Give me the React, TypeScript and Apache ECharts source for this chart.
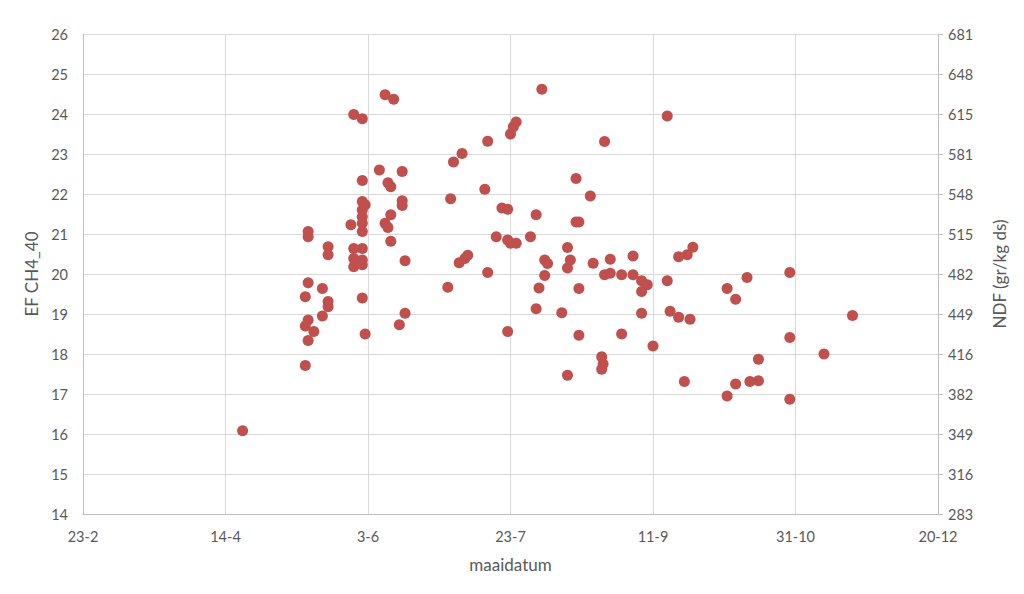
import React, { useEffect, useRef } from "react";
import * as echarts from "echarts";

// x-axis tick labels (every 50 days starting 23-2)
const xTickLabels = ["23-2", "14-4", "3-6", "23-7", "11-9", "31-10", "20-12"];
// right axis (NDF) tick labels
const ndfTicks = [283, 316, 349, 382, 416, 449, 482, 515, 548, 581, 615, 648, 681];

// days after 23-2 (maaidatum)
const days = [
  56, 106, 109, 95, 98, 104, 112, 98, 107, 108,
  98, 99, 112, 112, 98, 98, 98, 98, 94, 106,
  107, 108, 79, 79, 108, 86, 86, 95, 98, 95,
  98, 95, 98, 113, 79, 84, 78, 86, 86, 98,
  84, 79, 78, 81, 113, 111, 99, 79, 78,
  161, 152, 151, 150, 142, 183, 133, 130, 173, 141,
  129, 178, 147, 149, 159, 173, 174, 145, 149, 150,
  152, 157, 170, 135, 134, 132, 162, 163, 171, 170,
  179, 185, 193, 183, 185, 189, 193, 162, 142, 196,
  198, 196, 205, 128, 160, 174, 159, 168, 149, 174,
  189, 182, 182.5, 182, 170,
  205, 214, 212, 209, 233, 248, 226, 229, 196, 206,
  209, 213, 270, 200, 248, 260, 237, 211, 229, 234,
  237, 226, 248,
];

// EF CH4_40 values
const efCh4 = [
  16.08, 24.48, 24.37, 23.99, 23.88, 22.6, 22.56, 22.34, 22.28, 22.18,
  21.81, 21.73, 21.83, 21.71, 21.6, 21.43, 21.27, 21.06, 21.23, 21.27,
  21.16, 21.48, 21.06, 20.93, 20.82, 20.68, 20.48, 20.64, 20.64, 20.39,
  20.35, 20.18, 20.23, 20.33, 19.78, 19.64, 19.43, 19.31, 19.18, 19.4,
  18.95, 18.85, 18.7, 18.56, 19.02, 18.73, 18.5, 18.34, 17.71,
  24.62, 23.8, 23.68, 23.5, 23.32, 23.31, 23.01, 22.8, 22.39, 22.12,
  21.88, 21.95, 21.65, 21.62, 21.48, 21.3, 21.3, 20.93, 20.85, 20.77,
  20.77, 20.93, 20.66, 20.47, 20.39, 20.28, 20.35, 20.26, 20.35, 20.15,
  20.27, 20.37, 20.45, 19.98, 20.02, 19.98, 19.98, 19.96, 20.04, 19.83,
  19.73, 19.56, 19.83, 19.67, 19.65, 19.64, 19.13, 19.03, 18.56, 18.47,
  18.5, 17.93, 17.75, 17.62, 17.47,
  23.95, 20.67, 20.48, 20.43, 19.91, 20.04, 19.64, 19.37, 19.02, 19.07,
  18.92, 18.87, 18.96, 18.2, 18.41, 18.0, 17.87, 17.31, 17.25, 17.31,
  17.33, 16.95, 16.87,
];

const FONT = "Lato, 'Open Sans', sans-serif";
const LABEL_COLOR = "#595959";

export default function App() {
  const ref = useRef<HTMLDivElement>(null);

  useEffect(() => {
    if (!ref.current) return;
    const chart = echarts.init(ref.current, undefined, { renderer: "svg" });
    const data = days.map((d, i) => [d, efCh4[i]]);
    chart.setOption({
      animation: false,
      backgroundColor: "#ffffff",
      grid: { left: 83, right: 86, top: 34, bottom: 80, containLabel: false },
      xAxis: {
        type: "value",
        min: 0,
        max: 300,
        interval: 50,
        name: "maaidatum",
        nameLocation: "middle",
        nameGap: 42,
        nameTextStyle: { color: LABEL_COLOR, fontSize: 17, fontFamily: FONT },
        axisLine: { show: true, lineStyle: { color: "#bfbfbf", width: 1 } },
        axisTick: { show: false },
        axisLabel: {
          color: LABEL_COLOR,
          fontSize: 14.5,
          fontFamily: FONT,
          margin: 15,
          formatter: (v: number) => xTickLabels[Math.round(v / 50)] ?? "",
        },
        splitLine: { show: true, lineStyle: { color: "#d9d9d9", width: 1 } },
      },
      yAxis: [
        {
          type: "value",
          min: 14,
          max: 26,
          interval: 1,
          name: "EF CH4_40",
          nameLocation: "middle",
          nameRotate: 90,
          nameGap: 40,
          nameTextStyle: { color: LABEL_COLOR, fontSize: 17, fontFamily: FONT },
          axisLine: { show: true, lineStyle: { color: "#bfbfbf", width: 1 } },
          axisTick: { show: false },
          axisLabel: { color: LABEL_COLOR, fontSize: 14.5, fontFamily: FONT, margin: 15 },
          splitLine: { show: true, lineStyle: { color: "#d9d9d9", width: 1 } },
        },
        {
          type: "value",
          position: "right",
          min: 0,
          max: 12,
          interval: 1,
          name: "NDF (gr/kg ds)",
          nameLocation: "middle",
          nameRotate: 90,
          nameGap: 53,
          nameTextStyle: { color: LABEL_COLOR, fontSize: 17, fontFamily: FONT },
          axisLine: { show: true, lineStyle: { color: "#bfbfbf", width: 1 } },
          axisTick: { show: true, inside: false, length: 5, lineStyle: { color: "#bfbfbf" } },
          axisLabel: {
            color: LABEL_COLOR,
            fontSize: 14.5,
            fontFamily: FONT,
            margin: 10,
            formatter: (v: number) => String(ndfTicks[Math.round(v)] ?? ""),
          },
          splitLine: { show: false },
        },
      ],
      series: [
        {
          type: "scatter",
          yAxisIndex: 0,
          data,
          symbol: "circle",
          symbolSize: 11,
          itemStyle: { color: "#C0504D", opacity: 1 },
        },
      ],
    });
    return () => chart.dispose();
  }, []);

  return (
    <div
      ref={ref}
      style={{ position: "absolute", left: 0, top: 0, width: 1024, height: 594, background: "#fff" }}
    />
  );
}
